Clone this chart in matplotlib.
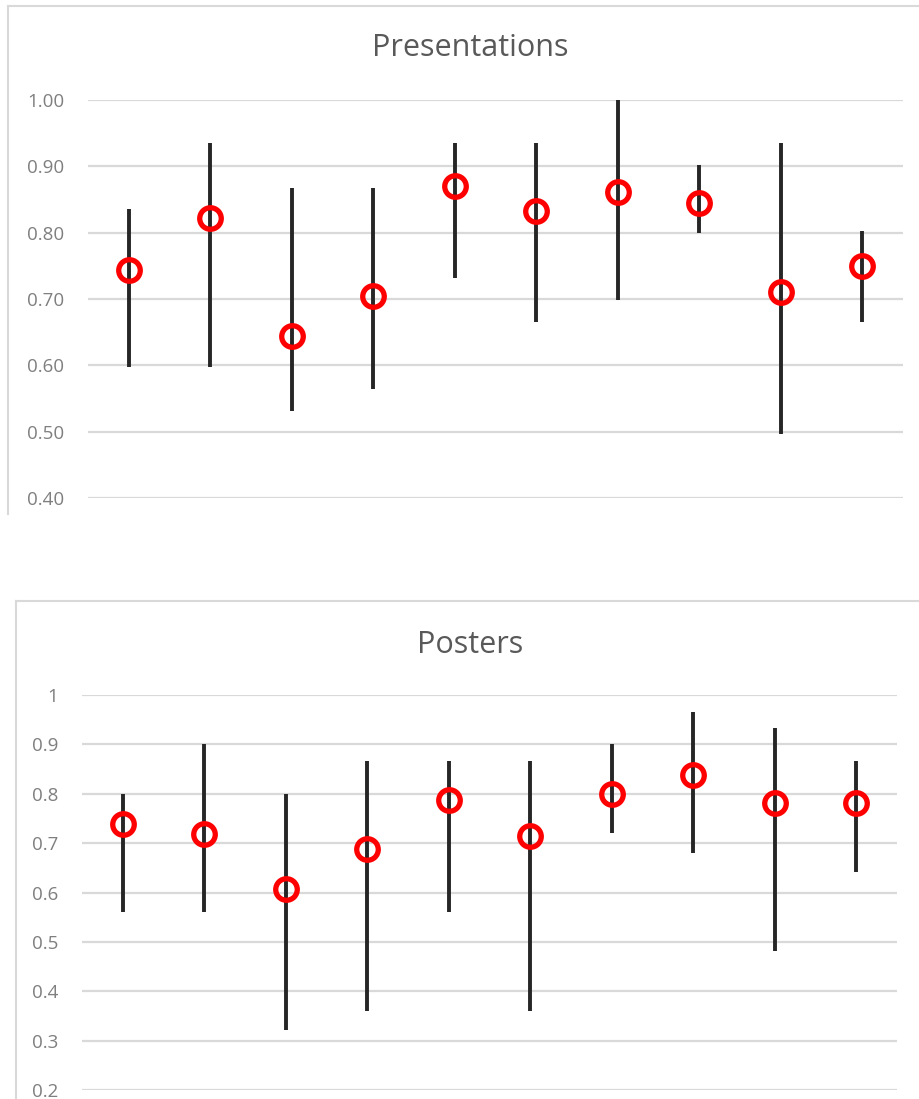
# Two range charts (min-max line with a red ring at the mean), Excel style
import matplotlib.pyplot as plt
from matplotlib.lines import Line2D

# Data
items = list(range(1, 11))

pres_mean = [0.744, 0.822, 0.644, 0.705, 0.871, 0.833, 0.861, 0.844, 0.711, 0.749]
pres_low = [0.597, 0.598, 0.531, 0.564, 0.732, 0.665, 0.699, 0.799, 0.497, 0.665]
pres_high = [0.835, 0.935, 0.868, 0.868, 0.935, 0.935, 1.000, 0.902, 0.935, 0.802]
pres_ticks = [0.40, 0.50, 0.60, 0.70, 0.80, 0.90, 1.00]
pres_labels = ['0.40', '0.50', '0.60', '0.70', '0.80', '0.90', '1.00']

post_mean = [0.738, 0.719, 0.608, 0.689, 0.787, 0.714, 0.800, 0.837, 0.782, 0.782]
post_low = [0.560, 0.560, 0.321, 0.361, 0.560, 0.361, 0.720, 0.680, 0.481, 0.641]
post_high = [0.800, 0.900, 0.800, 0.867, 0.867, 0.867, 0.900, 0.966, 0.934, 0.867]
post_ticks = [0.2, 0.3, 0.4, 0.5, 0.6, 0.7, 0.8, 0.9, 1.0]
post_labels = ['0.2', '0.3', '0.4', '0.5', '0.6', '0.7', '0.8', '0.9', '1']

W, H = 920, 1099
grid_col = '#d9d9d9'
text_col = '#7f7f7f'
plt.rcParams['font.family'] = ['Open Sans', 'DejaVu Sans']

fig = plt.figure(figsize=(W / 100, H / 100), dpi=100)


def px(x0, y0, x1, y1):
    # pixel box (top-left origin) -> figure fraction rect
    return [x0 / W, 1 - y1 / H, (x1 - x0) / W, (y1 - y0) / H]


def frame(x, y, y_end):
    # light chart-area border: left and top edges only (picture is cropped)
    fig.add_artist(Line2D([x / W, x / W], [1 - y / H, 1 - y_end / H],
                          color=grid_col, lw=1.5, transform=fig.transFigure))
    fig.add_artist(Line2D([x / W, 1.02], [1 - y / H, 1 - y / H],
                          color=grid_col, lw=1.5, transform=fig.transFigure))


def range_chart(ax, mean, low, high, ticks, labels, lims, title, title_y):
    ax.vlines(items, low, high, colors='#262626', lw=2.8, zorder=3)
    ax.plot(items, mean, 'o', ms=15.5, mfc='none', mec='#ff0000', mew=3.8, zorder=4)
    ax.set_xlim(0.5, 10.5)
    ax.set_ylim(*lims)
    ax.set_yticks(ticks)
    ax.set_yticklabels(labels, color=text_col, fontsize=13.5)
    ax.set_xticks([])
    ax.tick_params(axis='y', length=0, pad=17)
    ax.grid(axis='y', color=grid_col, lw=1.6)
    ax.set_axisbelow(True)
    for s in ax.spines.values():
        s.set_visible(False)
    ax.patch.set_alpha(0)
    fig.text(470 / W, 1 - title_y / H, title, ha='center', va='center',
             fontsize=22, color='#595959')


frame(8, 6, 514)
frame(16, 601, H)

ax1 = fig.add_axes(px(88, 100, 903, 498))
range_chart(ax1, pres_mean, pres_low, pres_high, pres_ticks, pres_labels,
            (0.4, 1.0), 'Presentations', 48)

ax2 = fig.add_axes(px(82, 695, 897, 1090))
range_chart(ax2, post_mean, post_low, post_high, post_ticks, post_labels,
            (0.2, 1.0), 'Posters', 645)

fig.savefig('out.png', dpi=100)
